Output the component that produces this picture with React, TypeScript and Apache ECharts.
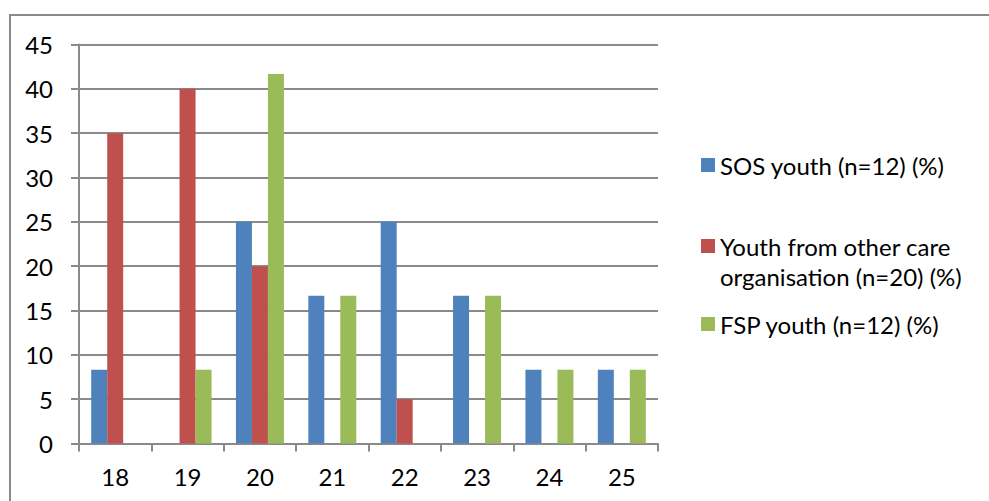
import React, { useEffect, useRef } from "react";
import * as echarts from "echarts";

const categories = ["18", "19", "20", "21", "22", "23", "24", "25"];
const seriesNames = [
  "SOS youth (n=12) (%)",
  "Youth from other care organisation (n=20) (%)",
  "FSP youth (n=12) (%)",
];
const sosValues = [8.33, 0, 25, 16.67, 25, 16.67, 8.33, 8.33];
const otherValues = [35, 40, 20, 0, 5, 0, 0, 0];
const fspValues = [0, 8.33, 41.67, 16.67, 0, 16.67, 8.33, 8.33];
const colors = ["#4F81BD", "#C0504D", "#9BBB59"];

const FONT = "Lato";
const GRAY = "#8A8A8A";
const FS = 24;

export default function App() {
  const ref = useRef<HTMLDivElement>(null);
  useEffect(() => {
    if (!ref.current) return;
    const chart = echarts.init(ref.current, null, { renderer: "svg" });
    const legendBase = {
      orient: "vertical",
      left: 701,
      padding: 0,
      itemWidth: 14,
      itemHeight: 14,
      itemGap: 7,
      icon: "rect",
      selectedMode: false,
      textStyle: { fontFamily: FONT, fontSize: FS, color: "#000", lineHeight: 30 },
    };
    chart.setOption({
      animation: false,
      backgroundColor: "#fff",
      textStyle: { fontFamily: FONT },
      graphic: [
        {
          type: "rect",
          shape: { x: 10, y: 15, width: 1200, height: 800 },
          style: { fill: "none", stroke: GRAY, lineWidth: 2 },
          silent: true,
        },
      ],
      grid: { left: 79, right: 331, top: 44.5, bottom: 57.5, containLabel: false },
      legend: [
        { ...legendBase, top: 150, data: [seriesNames[0]] },
        {
          ...legendBase,
          top: 201,
          data: [seriesNames[1]],
          formatter: () => "\u00a0\nYouth from other care\norganisation (n=20) (%)",
        },
        { ...legendBase, top: 309, data: [seriesNames[2]] },
      ],
      xAxis: {
        type: "category",
        data: categories,
        axisLine: { show: true, lineStyle: { color: GRAY, width: 2 } },
        axisTick: { show: true, length: 8, inside: false, lineStyle: { color: GRAY, width: 2 } },
        axisLabel: { fontFamily: FONT, fontSize: FS, color: "#000", margin: 21 },
        splitLine: { show: false },
      },
      yAxis: {
        type: "value",
        min: 0,
        max: 45,
        interval: 5,
        axisLine: { show: true, lineStyle: { color: GRAY, width: 2 } },
        axisTick: { show: true, length: 8, lineStyle: { color: GRAY, width: 2 } },
        axisLabel: { fontFamily: FONT, fontSize: FS, color: "#000", margin: 26 },
        splitLine: { show: true, lineStyle: { color: GRAY, width: 2 } },
      },
      series: [
        { name: seriesNames[0], type: "bar", data: sosValues, itemStyle: { color: colors[0] }, barGap: "0%", barCategoryGap: "33.7%" },
        { name: seriesNames[1], type: "bar", data: otherValues, itemStyle: { color: colors[1] }, barGap: "0%", barCategoryGap: "33.7%" },
        { name: seriesNames[2], type: "bar", data: fspValues, itemStyle: { color: colors[2] }, barGap: "0%", barCategoryGap: "33.7%" },
      ],
    });
    return () => chart.dispose();
  }, []);
  return (
    <div
      ref={ref}
      style={{ position: "absolute", left: 0, top: 0, width: 989, height: 501 }}
    />
  );
}
